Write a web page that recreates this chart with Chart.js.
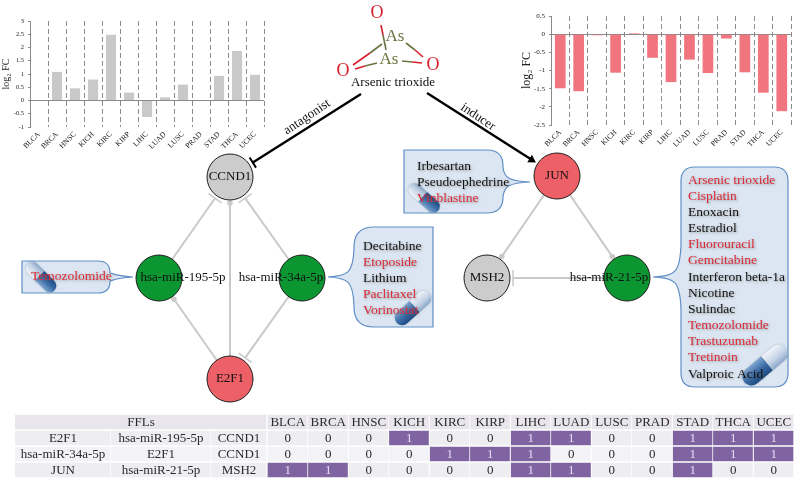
<!DOCTYPE html>
<html>
<head>
<meta charset="utf-8">
<style>
	html, body { margin: 0; padding: 0; background: #fff; }
	#page { position: relative; width: 800px; height: 484px; overflow: hidden; }
	canvas { position: absolute; }
</style>
<script src="https://cdn.jsdelivr.net/npm/chart.js@4/dist/chart.umd.min.js"></script>
</head>
<body>
<div id="page">
	<canvas id="network" width="800" height="484" style="left:0;top:0"></canvas>
	<canvas id="ccnd1Bars" width="270" height="160" style="left:0;top:0"></canvas>
	<canvas id="junBars" width="276" height="160" style="left:520px;top:0"></canvas>
	<canvas id="table" width="800" height="64" style="left:0;top:414px"></canvas>
</div>
<script>
const SERIF = '"Liberation Serif", "Times New Roman", serif';

// bar charts
const cancers = ['BLCA', 'BRCA', 'HNSC', 'KICH', 'KIRC', 'KIRP', 'LIHC', 'LUAD', 'LUSC', 'PRAD', 'STAD', 'THCA', 'UCEC'];
const ccnd1Fc = [0, 1.08, 0.46, 0.79, 2.48, 0.3, -0.62, 0.12, 0.6, 0, 0.93, 1.87, 0.97];
const junFc = [-1.49, -1.57, -0.03, -1.06, 0.03, -0.65, -1.32, -0.7, -1.07, -0.12, -1.05, -1.61, -2.12];

// table
const fflRows = [
	['E2F1', 'hsa-miR-195-5p', 'CCND1'],
	['hsa-miR-34a-5p', 'E2F1', 'CCND1'],
	['JUN', 'hsa-miR-21-5p', 'MSH2']
];
const fflFlags = [
	[0, 0, 0, 1, 0, 0, 1, 1, 0, 0, 1, 1, 1],
	[0, 0, 0, 0, 1, 1, 1, 0, 0, 0, 1, 1, 1],
	[1, 1, 0, 0, 0, 0, 1, 1, 0, 0, 1, 0, 0]
];

// network
const nodeNames = ['CCND1', 'hsa-miR-195-5p', 'hsa-miR-34a-5p', 'E2F1', 'JUN', 'MSH2', 'hsa-miR-21-5p'];
const nodeX = [230, 159, 302, 230, 557, 487, 627];
const nodeY = [177, 278, 278, 379, 176, 278, 278];
const nodeColors = ['#cccccc', '#0c9632', '#0c9632', '#ee6068', '#ee6068', '#cccccc', '#0c9632'];
const labelX = [230, 183, 281, 230, 557, 487, 609];
const edgeFrom = [1, 3, 2, 3, 2, 4, 4, 6];
const edgeTo = [0, 0, 0, 1, 3, 5, 6, 5];
const edgeEnds = ['tee', 'dot', 'tee', 'dot', 'tee', 'dot', 'dot', 'tee'];

// drugs, a leading * marks the red ones
const jun_drugs = ['Irbesartan', 'Pseudoephedrine', '*Vinblastine'];
const mir195_drugs = ['*Temozolomide'];
const mir34_drugs = ['Decitabine', '*Etoposide', 'Lithium', '*Paclitaxel', '*Vorinostat'];
const mir21_drugs = ['*Arsenic trioxide', '*Cisplatin', 'Enoxacin', 'Estradiol', '*Fluorouracil', '*Gemcitabine',
	'Interferon beta-1a', 'Nicotine', 'Sulindac', '*Temozolomide', '*Trastuzumab', '*Tretinoin', 'Valproic Acid'];

// arsenic trioxide sketch
const OLIVE = '#6f7340';
const RED = '#d8202c';
const bonds = [
	[381, 25, 383, 35, RED], [383, 35, 385, 45, OLIVE],
	[385, 44, 386, 50, OLIVE],
	[406, 43, 415, 50, OLIVE], [415, 50, 423, 57, RED],
	[402, 61, 412, 62, OLIVE], [412, 62, 422, 63, RED],
	[377, 63, 365, 66, OLIVE], [365, 66, 355, 69, RED],
	[382, 44, 370, 53, OLIVE], [370, 53, 353, 65, RED]
];

function barChart (id, values, color, yMin, yMax, plotLeft, plotTop, plotBottom, titleSize, tickSize, barPct, padRight) {
	return new Chart(document.getElementById(id), {
		type: 'bar',
		data: {
			labels: cancers,
			datasets: [{ data: values, backgroundColor: color, barPercentage: barPct, categoryPercentage: 1 }]
		},
		options: {
			responsive: false,
			animation: false,
			layout: { autoPadding: false, padding: { top: plotTop, right: padRight } },
			plugins: { legend: { display: false }, tooltip: { enabled: false } },
			scales: {
				x: {
					grid: {
						offset: true,
						color: c => c.index === 0 ? 'transparent' : '#8a8a8a',
						lineWidth: 1,
						drawTicks: false
					},
					border: { display: false, dash: [5, 3] },
					ticks: {
						autoSkip: false,
						maxRotation: 45,
						minRotation: 45,
						padding: 3,
						color: '#111',
						font: { family: SERIF, size: 7.5 }
					},
					afterFit: s => { s.height = s.chart.height - plotBottom; }
				},
				y: {
					min: yMin,
					max: yMax,
					grid: {
						color: c => c.tick.value === 0 ? '#8a8a8a' : 'transparent',
						lineWidth: 1,
						drawTicks: true,
						tickLength: 2,
						tickColor: '#8a8a8a'
					},
					border: { color: '#8a8a8a' },
					ticks: {
						stepSize: 0.5,
						padding: 4,
						color: '#222',
						font: { family: SERIF, size: tickSize },
						callback: v => String(v)
					},
					title: {
						display: true,
						text: 'log₂ FC',
						color: '#222',
						padding: 0,
						font: { family: SERIF, size: titleSize }
					},
					afterFit: s => { s.width = plotLeft; }
				}
			}
		}
	});
}

barChart('ccnd1Bars', ccnd1Fc, '#c9c9c9', -1, 3, 30, 21, 127, 10, 6.5, 0.56, 6);
barChart('junBars', junFc, '#f0757f', -2.5, 0.5, 31, 16, 125, 12, 7, 0.58, 5);

// table, each cell is a floating horizontal bar
const fflColumnEdges = [[15, 111], [111, 211], [211, 267]];
const firstCancerX = 267.5;
const cancerColWidth = 40.5;
const rowFills = ['#e8e6ec', '#eeedf2', '#f3f2f6', '#eeedf2'];
const tableLabels = ['FFLs'].concat(fflRows.map(r => r.join(' ')));

const tableDatasets = [];
fflColumnEdges.forEach((edge, col) => {
	tableDatasets.push({
		cellText: ['FFLs'].concat(fflRows.map(r => r[col])),
		data: [col === 0 ? [15, 267] : null].concat(fflRows.map(() => edge)),
		backgroundColor: rowFills
	});
	if (col > 0) {
		tableDatasets[col].cellText[0] = '';
	}
});
cancers.forEach((name, col) => {
	const from = firstCancerX + col * cancerColWidth;
	const flags = fflFlags.map(r => r[col]);
	tableDatasets.push({
		cellText: [name].concat(flags.map(String)),
		data: [0, 1, 2, 3].map(() => [from, from + cancerColWidth]),
		backgroundColor: rowFills.map((fill, r) => r > 0 && flags[r - 1] === 1 ? '#8064a2' : fill)
	});
});

new Chart(document.getElementById('table'), {
	type: 'bar',
	data: {
		labels: tableLabels,
		datasets: tableDatasets.map(d => Object.assign(d, {
			grouped: false,
			barPercentage: 1,
			categoryPercentage: 1,
			borderWidth: 1,
			borderColor: '#ffffff'
		}))
	},
	options: {
		indexAxis: 'y',
		responsive: false,
		animation: false,
		layout: { autoPadding: false, padding: 0 },
		plugins: { legend: { display: false }, tooltip: { enabled: false } },
		scales: {
			x: { type: 'linear', min: 0, max: 800, display: false },
			y: { display: false }
		}
	},
	plugins: [{
		id: 'cellText',
		afterDatasetsDraw (chart) {
			const ctx = chart.ctx;
			ctx.save();
			ctx.font = '13px ' + SERIF;
			ctx.textAlign = 'center';
			ctx.textBaseline = 'middle';
			chart.data.datasets.forEach((d, i) => {
				chart.getDatasetMeta(i).data.forEach((bar, r) => {
					const text = d.cellText[r];
					if (!text || d.data[r] === null) return;
					const on = d.backgroundColor[r] === '#8064a2';
					ctx.fillStyle = on ? '#e4dcef' : '#2a2a2a';
					ctx.fillText(text, (bar.x + bar.base) / 2, bar.y + 0.5);
				});
			});
			ctx.restore();
		}
	}]
});

// network, nodes and edges are scatter datasets on a page sized scale
const GAP = 26;

function towards (x0, y0, x1, y1, dist) {
	const len = Math.hypot(x1 - x0, y1 - y0);
	return { x: x1 - (x1 - x0) / len * dist, y: y1 - (y1 - y0) / len * dist };
}

function teeBar (x0, y0, tip, half, color, width) {
	const len = Math.hypot(tip.x - x0, tip.y - y0);
	const nx = -(tip.y - y0) / len;
	const ny = (tip.x - x0) / len;
	return {
		data: [{ x: tip.x - nx * half, y: tip.y - ny * half }, { x: tip.x + nx * half, y: tip.y + ny * half }],
		showLine: true, borderColor: color, borderWidth: width, pointRadius: 0
	};
}

const networkDatasets = [{
	data: nodeX.map((x, i) => ({ x: x, y: nodeY[i] })),
	pointRadius: 23,
	pointBackgroundColor: nodeColors,
	pointBorderColor: '#1c1c1c',
	pointBorderWidth: 1,
	showLine: false,
	order: 0
}];

edgeFrom.forEach((from, i) => {
	const to = edgeTo[i];
	const tip = towards(nodeX[from], nodeY[from], nodeX[to], nodeY[to], GAP);
	const isDot = edgeEnds[i] === 'dot';
	networkDatasets.push({
		data: [{ x: nodeX[from], y: nodeY[from] }, tip],
		showLine: true,
		borderColor: '#c9c9c9',
		borderWidth: 2,
		pointRadius: [0, isDot ? 2.8 : 0],
		pointBackgroundColor: '#c9c9c9',
		pointBorderWidth: 0,
		order: 2
	});
	if (!isDot) {
		networkDatasets.push(Object.assign(teeBar(nodeX[from], nodeY[from], tip, 8, '#c9c9c9', 1.5), { order: 2 }));
	}
});

// drug edges
const antagonistTip = towards(361, 94, nodeX[0], nodeY[0], 27);
networkDatasets.push({
	data: [{ x: 361, y: 94 }, antagonistTip],
	showLine: true, borderColor: '#000', borderWidth: 2.4, pointRadius: 0, order: 1
});
networkDatasets.push(Object.assign(teeBar(361, 94, antagonistTip, 6, '#000', 2), { order: 1 }));

const inducerEnd = towards(427, 93, nodeX[4], nodeY[4], 30);
networkDatasets.push({
	data: [{ x: 427, y: 93 }, inducerEnd],
	showLine: true,
	borderColor: '#000',
	borderWidth: 2.4,
	pointRadius: [0, 5],
	pointStyle: 'triangle',
	pointRotation: [0, Math.atan2(nodeX[4] - 427, 93 - nodeY[4]) * 180 / Math.PI],
	pointBackgroundColor: '#000',
	pointBorderWidth: 0,
	order: 1
});

bonds.forEach(b => {
	networkDatasets.push({
		data: [{ x: b[0], y: b[1] }, { x: b[2], y: b[3] }],
		showLine: true, borderColor: b[4], borderWidth: 1.6, pointRadius: 0, order: 1
	});
});

function bubblePath (ctx, b) {
	const r = b.radii;
	const h = b.baseHalf;
	ctx.beginPath();
	ctx.moveTo(b.x0 + r[0], b.y0);
	ctx.lineTo(b.x1 - r[1], b.y0);
	ctx.quadraticCurveTo(b.x1, b.y0, b.x1, b.y0 + r[1]);
	if (b.tipX > b.x1) {
		ctx.lineTo(b.x1, b.tipY - h);
		ctx.bezierCurveTo(b.x1 + 1, b.tipY - 4, b.x1 + 6, b.tipY - 1, b.tipX, b.tipY);
		ctx.bezierCurveTo(b.x1 + 6, b.tipY + 1, b.x1 + 1, b.tipY + 4, b.x1, b.tipY + h);
	}
	ctx.lineTo(b.x1, b.y1 - r[2]);
	ctx.quadraticCurveTo(b.x1, b.y1, b.x1 - r[2], b.y1);
	ctx.lineTo(b.x0 + r[3], b.y1);
	ctx.quadraticCurveTo(b.x0, b.y1, b.x0, b.y1 - r[3]);
	if (b.tipX < b.x0) {
		ctx.lineTo(b.x0, b.tipY + h);
		ctx.bezierCurveTo(b.x0 - 1, b.tipY + 4, b.x0 - 6, b.tipY + 1, b.tipX, b.tipY);
		ctx.bezierCurveTo(b.x0 - 6, b.tipY - 1, b.x0 - 1, b.tipY - 4, b.x0, b.tipY - h);
	}
	ctx.lineTo(b.x0, b.y0 + r[0]);
	ctx.quadraticCurveTo(b.x0, b.y0, b.x0 + r[0], b.y0);
	ctx.closePath();
}

function drawPill (ctx, cx, cy, len, wid, angle) {
	ctx.save();
	ctx.translate(cx, cy);
	ctx.rotate(angle * Math.PI / 180);
	ctx.shadowColor = 'rgba(60,80,110,0.4)';
	ctx.shadowBlur = 2;
	const dark = ctx.createLinearGradient(0, -wid / 2, 0, wid / 2);
	dark.addColorStop(0, '#7ea4cf');
	dark.addColorStop(0.5, '#3c6ea8');
	dark.addColorStop(1, '#1d4a82');
	ctx.fillStyle = dark;
	ctx.beginPath();
	ctx.roundRect(-len / 2, -wid / 2, len * 0.55, wid, [wid / 2, 0, 0, wid / 2]);
	ctx.fill();
	const light = ctx.createLinearGradient(0, -wid / 2, 0, wid / 2);
	light.addColorStop(0, '#f2f5fa');
	light.addColorStop(0.6, '#c3d2e6');
	light.addColorStop(1, '#8ba6c8');
	ctx.fillStyle = light;
	ctx.beginPath();
	ctx.roundRect(len * 0.05, -wid / 2, len * 0.45, wid, [0, wid / 2, wid / 2, 0]);
	ctx.fill();
	ctx.restore();
}

function drawDrugs (ctx, list, x, y, step) {
	ctx.save();
	ctx.font = '13.5px ' + SERIF;
	ctx.textAlign = 'left';
	ctx.textBaseline = 'middle';
	ctx.shadowColor = 'rgba(90,90,90,0.55)';
	ctx.shadowBlur = 2.5;
	ctx.shadowOffsetX = 1;
	ctx.shadowOffsetY = 1;
	list.forEach((name, i) => {
		const red = name.charAt(0) === '*';
		ctx.fillStyle = red ? '#dc2a38' : '#111';
		ctx.fillText(red ? name.slice(1) : name, x, y + i * step);
	});
	ctx.restore();
}

const callouts = [
	{ x0: 404, y0: 150, x1: 503, y1: 213, radii: [0, 16, 16, 0], baseHalf: 15, tipX: 530, tipY: 182, pill: [424, 198, 38, 13, 222], drugs: jun_drugs, textX: 417, textY: 166 },
	{ x0: 22, y0: 261, x1: 110, y1: 293, radii: [0, 12, 12, 0], baseHalf: 4, tipX: 133, tipY: 277, pill: [41, 277, 38, 13, 225], drugs: mir195_drugs, textX: 31, textY: 276 },
	{ x0: 354, y0: 227, x1: 433, y1: 327, radii: [20, 0, 0, 20], baseHalf: 28, tipX: 328, tipY: 277, pill: [413, 308, 44, 15, -42], drugs: mir34_drugs, textX: 363, textY: 246 },
	{ x0: 681, y0: 167, x1: 788, y1: 387, radii: [14, 14, 14, 14], baseHalf: 32, tipX: 653, tipY: 277, pill: [765, 365, 54, 18, -40], drugs: mir21_drugs, textX: 688, textY: 180 }
];

const networkPlugin = {
	id: 'networkDecor',
	beforeDatasetsDraw (chart) {
		const ctx = chart.ctx;
		callouts.forEach(b => {
			ctx.save();
			bubblePath(ctx, b);
			ctx.fillStyle = '#dce6f2';
			ctx.fill();
			ctx.strokeStyle = '#5f8fc6';
			ctx.lineWidth = 1.2;
			ctx.stroke();
			ctx.restore();
			drawPill(ctx, b.pill[0], b.pill[1], b.pill[2], b.pill[3], b.pill[4]);
		});
	},
	afterDatasetsDraw (chart) {
		const ctx = chart.ctx;
		ctx.save();
		ctx.textAlign = 'center';
		ctx.textBaseline = 'middle';
		ctx.font = '13px ' + SERIF;
		ctx.fillStyle = '#111';
		nodeNames.forEach((name, i) => {
			ctx.fillText(name, labelX[i], nodeY[i]);
		});

		ctx.fillText('Arsenic trioxide', 393, 83);
		ctx.font = '18px ' + SERIF;
		ctx.fillStyle = RED;
		ctx.fillText('O', 377, 13);
		ctx.fillText('O', 343, 71);
		ctx.fillText('O', 433, 65);
		ctx.font = '17px ' + SERIF;
		ctx.fillStyle = OLIVE;
		ctx.fillText('As', 395, 37);
		ctx.fillText('As', 389, 60);

		ctx.font = '13px ' + SERIF;
		ctx.fillStyle = '#111';
		ctx.save();
		ctx.translate(307, 117);
		ctx.rotate(-34 * Math.PI / 180);
		ctx.fillText('antagonist', 0, 0);
		ctx.restore();
		ctx.save();
		ctx.translate(478, 117);
		ctx.rotate(34 * Math.PI / 180);
		ctx.fillText('inducer', 0, 0);
		ctx.restore();
		ctx.restore();

		callouts.forEach(b => drawDrugs(ctx, b.drugs, b.textX, b.textY, 16.17));
	}
};

new Chart(document.getElementById('network'), {
	type: 'scatter',
	data: { datasets: networkDatasets },
	options: {
		responsive: false,
		animation: false,
		layout: { autoPadding: false, padding: 0 },
		plugins: { legend: { display: false }, tooltip: { enabled: false } },
		scales: {
			x: { type: 'linear', min: 0, max: 800, display: false },
			y: { type: 'linear', min: 0, max: 484, reverse: true, display: false }
		}
	},
	plugins: [networkPlugin]
});
</script>
</body>
</html>
